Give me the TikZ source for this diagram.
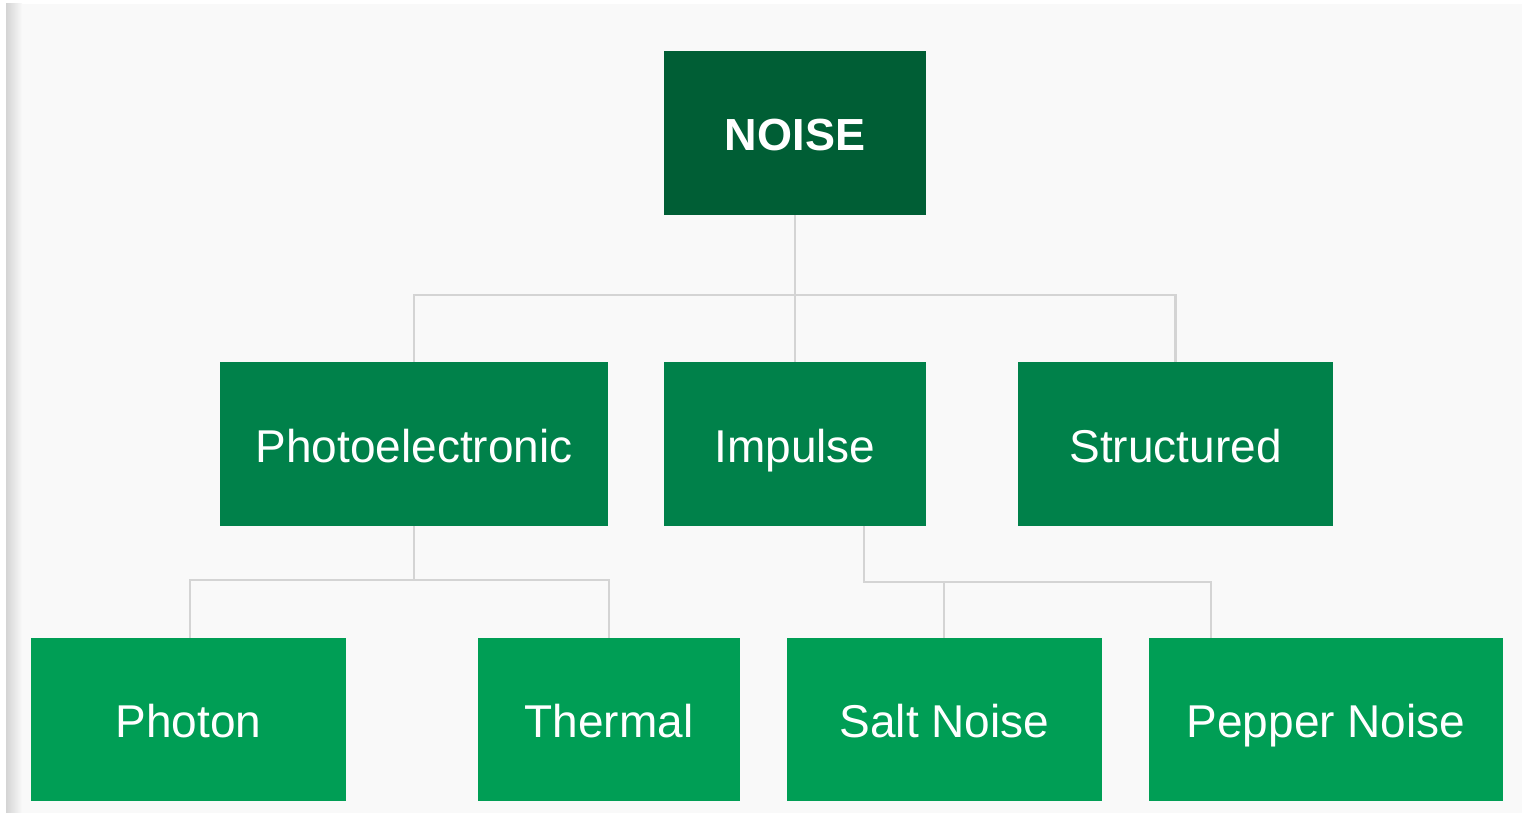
\documentclass[tikz,border=0pt]{standalone}
\usepackage{fontspec}
\setmainfont{Liberation Sans}
\definecolor{bgc}{HTML}{F9F9F9}
\definecolor{shadowc}{HTML}{D4D4D4}
\definecolor{topc}{HTML}{005E35}
\definecolor{midc}{HTML}{00814A}
\definecolor{lowc}{HTML}{009E55}
\definecolor{linec}{HTML}{D4D4D4}
\tikzset{
  box/.style={rectangle, inner sep=0pt, text=white, minimum height=164pt,
    text height=40pt, text depth=4pt,
    font=\fontsize{46}{50}\selectfont},
  topbox/.style={box, fill=topc, font=\fontsize{45}{50}\selectfont\bfseries},
  midbox/.style={box, fill=midc},
  lowbox/.style={box, fill=lowc, minimum height=163pt},
  conn/.style={draw=linec, line width=2.5pt},
}
\begin{document}
\begin{tikzpicture}[x=1pt,y=-1pt]
\useasboundingbox (0,0) rectangle (1522,813);
\fill[white] (0,0) rectangle (1522,813);
\fill[bgc] (6,4) rectangle (1522,813);
\shade[left color=shadowc, right color=bgc] (6,4) rectangle (22,813);

\node[topbox, minimum width=262pt] (no) at (795,133) {NOISE};
\node[midbox, minimum width=388pt] (pe) at (414,444) {Photoelectronic};
\node[midbox, minimum width=262pt] (im) at (795,444) {Impulse};
\node[midbox, minimum width=315pt] (st) at (1175.5,444) {Structured};
\node[lowbox, minimum width=315pt] (ph) at (188.5,719.5) {Photon};
\node[lowbox, minimum width=262pt] (th) at (609,719.5) {Thermal};
\node[lowbox, minimum width=315pt] (sa) at (944.5,719.5) {Salt Noise};
\node[lowbox, minimum width=354pt] (pp) at (1326,719.5) {Pepper Noise};

\coordinate (b1) at (795,295);
\coordinate (b2) at (414,580);
\coordinate (b3) at (944,582);

\draw[conn] (no.south) -- (b1) -- (im.north);
\draw[conn] (b1) -| (pe.north);
\draw[conn] (b1) -| (st.north);
\draw[conn] (pe.south) -- (b2);
\draw[conn] (b2) -| ([xshift=1.5pt]ph.north);
\draw[conn] (b2) -| (th.north);
\draw[conn] ([xshift=69pt]im.south) |- (b3) -- ([xshift=-0.5pt]sa.north);
\draw[conn] (b3) -| ([xshift=-115pt]pp.north);
\end{tikzpicture}
\end{document}
